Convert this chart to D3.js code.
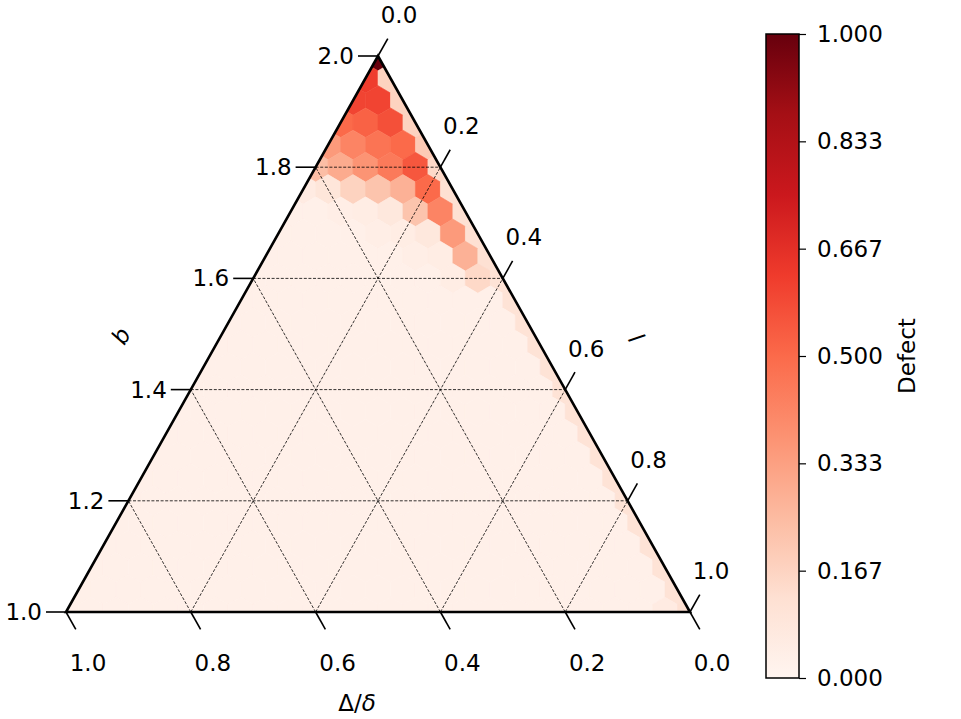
<!DOCTYPE html>
<html>
<head>
<meta charset="utf-8">
<script src="https://cdn.jsdelivr.net/npm/d3@7"></script>
<style>
  body { margin: 0; background: #fff; }
  text { font-family: "DejaVu Sans", sans-serif; fill: #000; }
</style>
</head>
<body>
<div id="chart"></div>
<script>
'use strict';

// lattice size of the simplex (points per side - 1)
var scale = 25;

// defect values, one row per lattice step down from the apex,
// each row read from the left edge to the right edge
var rowsTop = [
  [1.00],
  [0.62, 0.17],
  [0.60, 0.60, 0.17],
  [0.50, 0.52, 0.57, 0.17],
  [0.35, 0.42, 0.47, 0.50, 0.20],
  [0.24, 0.30, 0.37, 0.45, 0.55, 0.15],
  [0.06, 0.09, 0.17, 0.22, 0.28, 0.50, 0.12],
  [0.03, 0.03, 0.04, 0.05, 0.08, 0.22, 0.42, 0.12],
  [0.03, 0.03, 0.03, 0.03, 0.04, 0.05, 0.08, 0.35, 0.12],
  [0.03, 0.03, 0.03, 0.03, 0.03, 0.03, 0.04, 0.05, 0.28, 0.12],
  [0.03, 0.03, 0.03, 0.03, 0.03, 0.03, 0.03, 0.03, 0.05, 0.15, 0.11]
];

var rowsBottom = [
  [.03,.03,.03,.03,.03, .03,.03,.03,.03,.03, .03, .11],
  [.03,.03,.03,.03,.03, .03,.03,.03,.03,.03, .03,.03, .11],
  [.03,.03,.03,.03,.03, .03,.03,.03,.03,.03, .03,.03,.03, .11],
  [.03,.03,.03,.03,.03, .03,.03,.03,.03,.03, .03,.03,.03,.03, .11],
  [.03,.03,.03,.03,.03, .03,.03,.03,.03,.03, .03,.03,.03,.03,.03, .11],
  [.03,.03,.03,.03,.03, .03,.03,.03,.03,.03, .03,.03,.03,.03,.03, .03, .11],
  [.03,.03,.03,.03,.03, .03,.03,.03,.03,.03, .03,.03,.03,.03,.03, .03,.03, .11],
  [.03,.03,.03,.03,.03, .03,.03,.03,.03,.03, .03,.03,.03,.03,.03, .03,.03,.03, .11],
  [.03,.03,.03,.03,.03, .03,.03,.03,.03,.03, .03,.03,.03,.03,.03, .03,.03,.03,.03, .11],
  [.03,.03,.03,.03,.03, .03,.03,.03,.03,.03, .03,.03,.03,.03,.03, .03,.03,.03,.03,.03, .11],
  [.03,.03,.03,.03,.03, .03,.03,.03,.03,.03, .03,.03,.03,.03,.03, .03,.03,.03,.03,.03, .03, .11],
  [.03,.03,.03,.03,.03, .03,.03,.03,.03,.03, .03,.03,.03,.03,.03, .03,.03,.03,.03,.03, .03,.03, .11],
  [.03,.03,.03,.03,.03, .03,.03,.03,.03,.03, .03,.03,.03,.03,.03, .03,.03,.03,.03,.03, .03,.03,.03, .11],
  [.03,.03,.03,.03,.03, .03,.03,.03,.03,.03, .03,.03,.03,.03,.03, .03,.03,.03,.03,.03, .03,.03,.03,.03, .11],
  [.03,.03,.03,.03,.03, .03,.03,.03,.03,.03, .03,.03,.03,.03,.03, .03,.03,.03,.03,.03, .03,.03,.03,.03, .06, .12]
];

var leftTicks = ['1.0', '1.2', '1.4', '1.6', '1.8', '2.0'];
var rightTicks = ['0.0', '0.2', '0.4', '0.6', '0.8', '1.0'];
var bottomTicks = ['1.0', '0.8', '0.6', '0.4', '0.2', '0.0'];
var tickStep = 5;

var barValues = [0, 1 / 6, 2 / 6, 3 / 6, 4 / 6, 5 / 6, 1];
var barLabels = ['0.000', '0.167', '0.333', '0.500', '0.667', '0.833', '1.000'];

// matplotlib "Reds"
var redsStops = ['#fff5f0', '#fee0d2', '#fcbba1', '#fc9272', '#fb6a4a',
                 '#ef3b2c', '#cb181d', '#a50f15', '#67000d'];

var width = 961, height = 719;
var fontSize = 23;
var s3 = Math.sqrt(3);

var color = d3.scaleLinear()
  .domain(redsStops.map(function(d, i) { return i / (redsStops.length - 1); }))
  .range(redsStops)
  .clamp(true);

var xScale = d3.scaleLinear().domain([0, scale]).range([66, 690]);
var yScale = d3.scaleLinear().domain([0, scale * s3 / 2]).range([612, 56]);

// lattice (i, j) -> pixel
function project(i, j) {
  return [xScale(i + j / 2), yScale(j * s3 / 2)];
}

var hexOffsets = [
  [0, 1 / s3], [0.5, 0.5 / s3], [0.5, -0.5 / s3],
  [0, -1 / s3], [-0.5, -0.5 / s3], [-0.5, 0.5 / s3]
];

var rows = rowsTop.concat(rowsBottom);
var cells = [];
rows.forEach(function(row, r) {
  row.forEach(function(v, m) {
    cells.push({ i: m, j: scale - r, value: v });
  });
});

var svg = d3.select('#chart').append('svg')
  .attr('width', width)
  .attr('height', height);

var pBL = project(0, 0), pBR = project(scale, 0), pTop = project(0, scale);

svg.append('defs').append('clipPath')
  .attr('id', 'tri')
  .append('polygon')
  .attr('points', [pBL, pBR, pTop].map(function(p) { return p.join(','); }).join(' '));

// Hexagonal heatmap
svg.append('g')
  .attr('clip-path', 'url(#tri)')
  .selectAll('path.hex')
  .data(cells)
  .enter()
  .append('path')
  .attr('class', 'hex')
  .attr('d', function(d) {
    var cx = d.i + d.j / 2, cy = d.j * s3 / 2;
    return 'M' + hexOffsets.map(function(o) {
      return [xScale(cx + o[0]), yScale(cy + o[1])].join(',');
    }).join('L') + 'Z';
  })
  .attr('fill', function(d) { return color(d.value); })
  .attr('stroke', function(d) { return color(d.value); })
  .attr('stroke-width', 0.6);

// Gridlines
var grid = svg.append('g')
  .attr('fill', 'none')
  .attr('stroke', '#000')
  .attr('stroke-width', 0.8)
  .attr('stroke-dasharray', '3,1.6');

for (var t = tickStep; t < scale; t += tickStep) {
  var segs = [
    [project(0, t), project(scale - t, t)],        // constant j
    [project(t, 0), project(t, scale - t)],        // constant i
    [project(scale - t, 0), project(0, scale - t)] // constant k
  ];
  segs.forEach(function(s) {
    grid.append('line')
      .attr('x1', s[0][0]).attr('y1', s[0][1])
      .attr('x2', s[1][0]).attr('y2', s[1][1]);
  });
}

// Triangle boundary
svg.append('polygon')
  .attr('points', [pBL, pBR, pTop].map(function(p) { return p.join(','); }).join(' '))
  .attr('fill', 'none')
  .attr('stroke', '#000')
  .attr('stroke-width', 2.6)
  .attr('stroke-linejoin', 'miter');

// Ticks
function unit(a, b) {
  var dx = b[0] - a[0], dy = b[1] - a[1], l = Math.sqrt(dx * dx + dy * dy);
  return [dx / l, dy / l];
}
var downRight = unit(pTop, pBR);   // parallel to right edge
var upRight = unit(pBL, pTop);     // parallel to left edge
var tickLen = 20;

var ticks = svg.append('g')
  .attr('stroke', '#000')
  .attr('stroke-width', 1.6);
var labels = svg.append('g')
  .attr('font-size', fontSize);

leftTicks.forEach(function(lab, t) {
  var p = project(0, t * tickStep);
  ticks.append('line')
    .attr('x1', p[0]).attr('y1', p[1])
    .attr('x2', p[0] - tickLen).attr('y2', p[1]);
  labels.append('text')
    .attr('x', p[0] - tickLen - 4)
    .attr('y', p[1])
    .attr('text-anchor', 'end')
    .attr('dominant-baseline', 'central')
    .text(lab);
});

rightTicks.forEach(function(lab, t) {
  var p = project(t * tickStep, scale - t * tickStep);
  ticks.append('line')
    .attr('x1', p[0]).attr('y1', p[1])
    .attr('x2', p[0] + upRight[0] * tickLen).attr('y2', p[1] + upRight[1] * tickLen);
  labels.append('text')
    .attr('x', p[0] + 21)
    .attr('y', p[1] - 41)
    .attr('text-anchor', 'middle')
    .attr('dominant-baseline', 'central')
    .text(lab);
});

bottomTicks.forEach(function(lab, t) {
  var p = project(t * tickStep, 0);
  ticks.append('line')
    .attr('x1', p[0]).attr('y1', p[1])
    .attr('x2', p[0] + downRight[0] * tickLen).attr('y2', p[1] + downRight[1] * tickLen);
  labels.append('text')
    .attr('x', p[0] + 22)
    .attr('y', 663)
    .attr('text-anchor', 'middle')
    .attr('dominant-baseline', 'central')
    .text(lab);
});

// Axis labels
labels.append('text')
  .attr('transform', 'translate(121,336) rotate(-60)')
  .attr('text-anchor', 'middle')
  .attr('dominant-baseline', 'central')
  .attr('font-style', 'italic')
  .text('b');

labels.append('text')
  .attr('transform', 'translate(636,338) rotate(60)')
  .attr('text-anchor', 'middle')
  .attr('dominant-baseline', 'central')
  .attr('font-style', 'italic')
  .text('l');

var xl = labels.append('text')
  .attr('x', 357)
  .attr('y', 703)
  .attr('text-anchor', 'middle')
  .attr('dominant-baseline', 'central');
xl.append('tspan').text('Δ/');
xl.append('tspan').attr('font-style', 'italic').text('δ');

// Colorbar
var bar = { x: 766, w: 33, top: 34, bottom: 678 };
var grad = svg.select('defs').append('linearGradient')
  .attr('id', 'cbar')
  .attr('x1', 0).attr('y1', 1).attr('x2', 0).attr('y2', 0);
grad.selectAll('stop')
  .data(redsStops)
  .enter()
  .append('stop')
  .attr('offset', function(d, i) { return i / (redsStops.length - 1); })
  .attr('stop-color', function(d) { return d; });

svg.append('rect')
  .attr('x', bar.x).attr('y', bar.top)
  .attr('width', bar.w).attr('height', bar.bottom - bar.top)
  .attr('fill', 'url(#cbar)')
  .attr('stroke', '#000')
  .attr('stroke-width', 1.5);

var yBar = d3.scaleLinear().domain([0, 1]).range([bar.bottom, bar.top]);
var barAxis = d3.axisRight(yBar)
  .tickValues(barValues)
  .tickFormat(function(d, i) { return barLabels[i]; })
  .tickSize(7)
  .tickPadding(11);

var gBar = svg.append('g')
  .attr('transform', 'translate(' + (bar.x + bar.w) + ',0)')
  .call(barAxis);
gBar.select('.domain').remove();
gBar.selectAll('.tick line').attr('stroke', '#000').attr('stroke-width', 1.2);
gBar.selectAll('.tick text')
  .attr('font-size', fontSize)
  .attr('font-family', '"DejaVu Sans", sans-serif')
  .attr('fill', '#000');

svg.append('text')
  .attr('transform', 'translate(907,356) rotate(-90)')
  .attr('text-anchor', 'middle')
  .attr('dominant-baseline', 'central')
  .attr('font-size', fontSize)
  .text('Defect');
</script>
</body>
</html>
